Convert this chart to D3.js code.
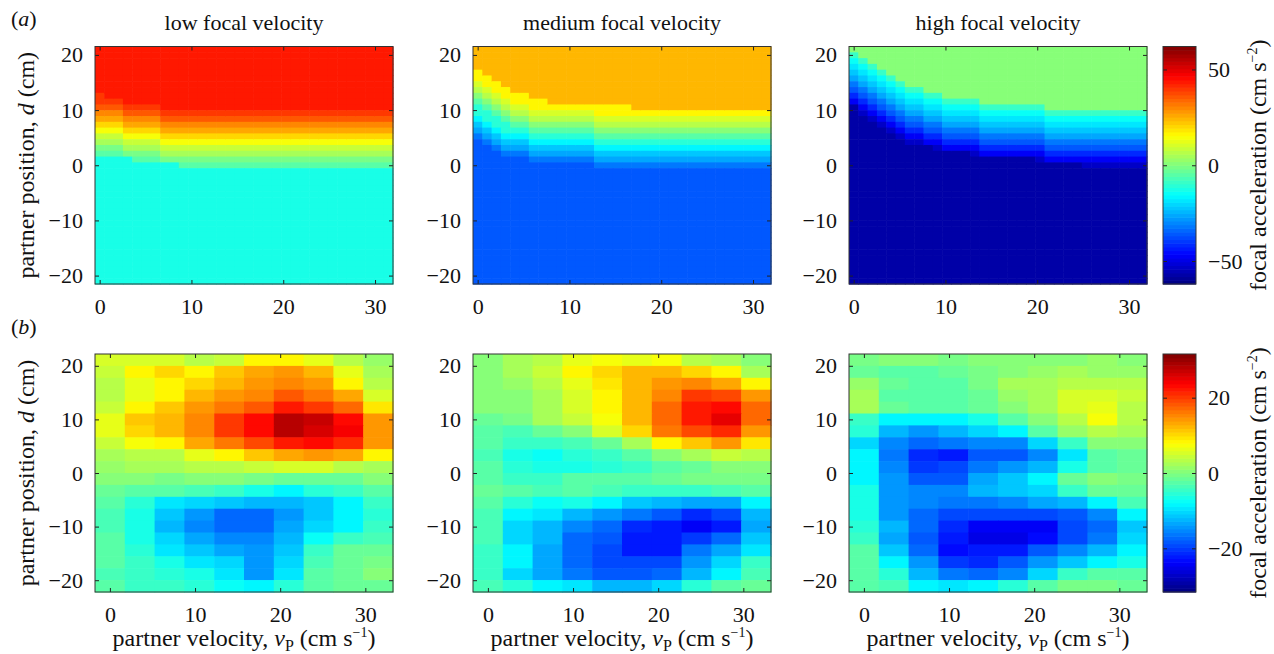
<!DOCTYPE html>
<html><head><meta charset="utf-8">
<script src="https://cdn.jsdelivr.net/npm/d3@7"></script>
<style>
body{margin:0;background:#fff}
svg{display:block}
text{font-family:"Liberation Serif","Times New Roman",serif;fill:#111}
</style>
</head><body>
<svg id="c" width="1274" height="654"></svg>
<script>
// ---------------- DATA ----------------
const titles = ["low focal velocity", "medium focal velocity", "high focal velocity"];
const xTicks = [0, 10, 20, 30];
const yTicks = [-20, -10, 0, 10, 20];
const cbTicksA = [-50, 0, 50];
const cbTicksB = [-20, 0, 20];
const climA = 62, climB = 31.6;

// row (a): model surfaces, 32 velocity columns x 41 position rows
const aVel = d3.range(32).map(i => i * 31.45 / 31);
const aPos = d3.range(41).map(k => 21 - 1.05 * k);
const aTop = [44, 23.7, 0];
const aBottom = [-11.8, -35.6, -57.4];
const aBand1 = [40.4, 35.6, 30.7, 25.8, 20.4, 13.6, 8.8, 4, -0.9, -4.6];
const aBand2 = [17, 11, 6.5, 0.5, -5.5, -10.5, -17, -22, -27, -32];
const aBand3 = [-8.2, -15.5, -18.6, -22.2, -27, -31.9, -36.8, -41.6, -48.4, -53.2];
// rows the transition band is lifted at each velocity column (upper / lower edge)
const aTopLift1 = [3,2,2,1,1,1,1,0,0,0,0,0,0,0,0,0,0,0,0,0,0,0,0,0,0,0,0,0,0,0,0,0];
const aBotLift1 = [2,2,2,2,1,1,1,1,1,0,0,0,0,0,0,0,0,0,0,0,0,0,0,0,0,0,0,0,0,0,0,0];
const aTopLift2 = [7,6,5,4,3,3,2,2,1,1,1,1,1,1,1,1,1,0,0,0,0,0,0,0,0,0,0,0,0,0,0,0];
const aBotLift2 = [5,4,3,2,2,2,1,1,1,1,1,1,1,0,0,0,0,0,0,0,0,0,0,0,0,0,0,0,0,0,0,0];
const aTopLift3 = [10,9,8,7,6,5,4,4,3,3,2,2,2,2,1,1,1,1,1,1,1,0,0,0,0,0,0,0,0,0,0,0];
const aBotLift3 = [11,9,8,7,6,5,4,4,4,3,3,3,3,2,2,2,2,2,2,2,1,1,1,1,1,0,0,0,0,0,0,0];

// row (b): measured, 10 velocity bins x 20 position bins (rows top -> bottom)
const bVel = [0, 3.5, 7, 10.5, 14, 17.5, 21, 24.5, 28, 31.5];
const bPos = d3.range(20).map(k => 21.09 - 2.22 * k);
const bLow = [
 [5,5.5,5,3.5,4.5,8.5,8.5,6,3,1.5],
 [4.5,8.5,10.5,8.7,11,13,14.5,12,6,2],
 [3,6,8,10.5,12.5,14,15.7,14,8.7,3],
 [3,6,8.7,12.3,14,15.7,18,16.3,13,5],
 [4.5,8,11,14.5,16.3,18.6,22,20,17,9],
 [6,11,12.5,15.7,20,23.7,28,26.8,23.7,14.5],
 [6,10.5,12.5,15.7,20,23.7,28,26.5,24,14.5],
 [4.5,7,8.5,13,16.3,19.3,22,23,21.5,14.5],
 [2.5,3,3.5,6,8.7,11,13.2,14,13,8],
 [1.5,2,2.5,3,3.5,4.3,5,5,3.5,2.5],
 [0,0,-0.5,0,0,-0.5,-1,-1.5,-1,0],
 [-1.5,-2,-2.7,-3.3,-4.5,-6.5,-8,-5,-4,-2.7],
 [-2.7,-5,-9.5,-10.5,-11.4,-12,-12,-11.4,-8.8,-4.5],
 [-3.3,-6.5,-11.4,-14.5,-17,-17,-14,-11.4,-8.8,-5],
 [-3.3,-6.5,-12,-15,-17.5,-17.2,-13.3,-10.5,-8.3,-4.5],
 [-2,-6,-10.2,-13.3,-15,-15.7,-12.6,-7.3,-4,-3.3],
 [-2,-5,-9.2,-11.7,-13.6,-14.5,-11.4,-4.5,-1.5,-1],
 [-2.7,-4.5,-6.5,-9.5,-10.5,-14,-10,-3.3,-1,-0.5],
 [-3.3,-4.5,-5,-6.5,-9.5,-14,-9.5,-2.7,-1,0],
 [-2.7,-4,-4,-5,-7,-8.3,-5.5,-2.7,-1.5,-1]
];
const bMed = [
 [0.8,2,3,6,7,6.5,7,3.5,2,0.8],
 [0.2,2.5,4.5,8,10.5,12,12,10.5,8,2.5],
 [0,1.5,3,6,9,12.5,14,15,13.3,8.5],
 [0,0.8,2.5,5,8,12.5,15.7,20.5,19.3,14.5],
 [0,0.8,2.5,5,7.9,12.5,17,22,23,17],
 [-1,-0.5,2,4.5,7,12.5,17,22.5,25,17.5],
 [-2,-3.3,-1.5,0.8,5,10,16.3,19.3,21.5,14],
 [-2.7,-4.5,-4,-3.3,-1.5,2.5,8.5,11,14,9],
 [-3.3,-6,-7.3,-5,-4,-2.7,0.8,2.5,4.5,3.5],
 [-2.7,-5,-6.5,-6,-5,-4,-2,-1,0,0.8],
 [-2.7,-4,-4.5,-2.7,-2,-2,-1,-0.5,-0.5,-0.5],
 [-1.5,-2,-3.3,-2.7,-3.3,-4.5,-4.5,-4,-3.3,-2],
 [-2.7,-5,-7.3,-6.5,-8,-11.4,-12.6,-13.3,-13.3,-8.3],
 [-3.3,-8.3,-9.8,-12.6,-14,-16.3,-18.6,-21,-19.6,-12.6],
 [-3.3,-10.5,-12,-15.7,-17.5,-21,-22.5,-24,-21.8,-13.3],
 [-3.3,-10,-12.6,-17,-18.6,-21.8,-22.5,-20.3,-17.5,-11.4],
 [-4,-8.8,-13.3,-17.5,-19.6,-21.8,-21.8,-16.3,-13.3,-9.5],
 [-4,-8.8,-13.3,-17,-19.6,-19.6,-19.6,-14.5,-10,-4.5],
 [-4,-10,-13.3,-16.3,-18,-18,-17.5,-12,-8,-3.3],
 [-3.3,-5,-8.8,-9.5,-12.6,-12,-10,-5,-2.7,-1.5]
];
const bHigh = [
 [-0.5,0.8,0,-0.5,0,0.8,0.8,0,1.5,0],
 [-1,-2,-2.7,-1.5,-0.5,0.8,1.5,2,1.5,1.5],
 [1.5,-1.5,-2.7,-2,-0.5,2,2.5,3,3.5,3],
 [2,-2,-2.7,-2.7,-1,1.5,2.5,5,5,4.5],
 [2,-1.5,-2.7,-2.7,-1.5,0,2,5,6,3.5],
 [-4,-8.3,-8.5,-8.8,-6.5,-2.7,0,3.5,7,3.5],
 [-5,-12.6,-14,-12,-10.5,-8,-2,1.5,3.5,2.5],
 [-10.5,-15.7,-17,-16.3,-15,-15.7,-10.5,-4,0,0.8],
 [-8.3,-16.3,-21,-21.8,-18.6,-18,-15,-9.5,-2,-1],
 [-8.8,-15.7,-20.3,-19.6,-16.3,-14.5,-12,-6.5,-2.7,-1.5],
 [-8.8,-14.5,-18,-18,-13.3,-11.4,-8,-1.5,0.8,-0.5],
 [-6.5,-14.5,-15.7,-15.7,-12,-11.4,-10,-4,-1.5,-1.5],
 [-6.5,-14,-15.7,-16.3,-16.3,-15,-13.3,-12.6,-8.3,-3.3],
 [-6.5,-14,-17,-19.6,-19.6,-19,-19,-18.6,-15.7,-8],
 [-5,-12.6,-17.5,-21,-24.5,-24.5,-24,-19.6,-17.5,-11.4],
 [-4,-13.3,-18.6,-21.8,-25.5,-25,-23,-19.6,-16.3,-10.5],
 [-2.7,-11.4,-17,-23.5,-22.5,-21.8,-18,-15.7,-12,-8.8],
 [-2.7,-8,-14.5,-20.3,-21,-18,-14,-11.4,-8.3,-6.5],
 [-2,-5,-12.6,-16.3,-17,-15.7,-10,-4.5,-2.7,-2.7],
 [-2,-3.3,-8.8,-9.5,-8.5,-5,-2,-0.5,-0.5,-1]
];

// ---------------- LAYOUT ----------------
const svg = d3.select("#c");
const lefts = [95, 473, 849], PW = 298;
const rowA = {top: 46.5, bottom: 284};
const rowB = {top: 354, bottom: 592};
const cbX = 1163, cbW = 33;
const FT = 22, FL = 24;
const SERIF = '"Liberation Serif","Times New Roman",serif';

function jet(v, clim) {
  let t = (v + clim) / (2 * clim);
  let i = Math.max(0, Math.min(63, Math.floor(t * 64)));
  const u = (i + 0.5) / 64;
  const c = x => Math.max(0, Math.min(1, x));
  const r = c(1.5 - Math.abs(4 * u - 3));
  const g = c(1.5 - Math.abs(4 * u - 2));
  const b = c(1.5 - Math.abs(4 * u - 1));
  return d3.rgb(r * 255, g * 255, b * 255).formatHex();
}

const aBands = [aBand1, aBand2, aBand3];
const aTopL = [aTopLift1, aTopLift2, aTopLift3];
const aBotL = [aBotLift1, aBotLift2, aBotLift3];
function aValue(p, c, k) {
  const start = 11 - aTopL[p][c];
  const end = 20 - aBotL[p][c];
  if (k < start) return aTop[p];
  if (k > end) return aBottom[p];
  const L = end - start + 1;
  const idx = Math.min(9, Math.floor((k - start) * 10 / L));
  return aBands[p][idx];
}
const fmt = d => d < 0 ? "\u2212" + Math.abs(d) : d;

function drawAxes(g, x, y, row) {
  const h = row.bottom - row.top;
  const bottom = d3.axisBottom(x).tickValues(xTicks).tickSize(-4).tickPadding(14).tickFormat(fmt);
  const top = d3.axisTop(x).tickValues(xTicks).tickSize(-4).tickFormat("");
  const left = d3.axisLeft(y).tickValues(yTicks).tickSize(-4).tickPadding(12).tickFormat(fmt);
  const right = d3.axisRight(y).tickValues(yTicks).tickSize(-4).tickFormat("");
  const styleAx = s => {
    s.attr("font-family", SERIF);
    s.select(".domain").remove();
    s.selectAll(".tick line").attr("stroke", "#222");
    s.selectAll("text").attr("font-size", FT).attr("font-family", SERIF).attr("fill", "#111");
  };
  g.append("g").attr("transform", `translate(0,${row.bottom})`).call(bottom).call(styleAx);
  g.append("g").attr("transform", `translate(0,${row.top})`).call(top).call(styleAx);
  g.append("g").attr("transform", `translate(${x.range()[0]},0)`).call(left).call(styleAx);
  g.append("g").attr("transform", `translate(${x.range()[1]},0)`).call(right).call(styleAx);
  g.append("rect").attr("x", x.range()[0]).attr("y", row.top)
    .attr("width", x.range()[1] - x.range()[0]).attr("height", h)
    .attr("fill", "none").attr("stroke", "#333").attr("stroke-width", 1);
}

// ---------- row (a) ----------
const aStep = aVel[1] - aVel[0];
const aPStep = 1.05;
for (let p = 0; p < 3; p++) {
  const x = d3.scaleLinear().domain([aVel[0] - aStep / 2, aVel[31] + aStep / 2]).range([lefts[p], lefts[p] + PW]);
  const y = d3.scaleLinear().domain([aPos[40] - aPStep / 2, aPos[0] + aPStep / 2]).range([rowA.bottom, rowA.top]);
  const g = svg.append("g");
  const cells = [];
  for (let c = 0; c < 32; c++) for (let k = 0; k < 41; k++) cells.push({c, k, v: aValue(p, c, k)});
  g.append("g").selectAll("rect").data(cells).join("rect")
    .attr("x", d => x(aVel[d.c] - aStep / 2))
    .attr("y", d => y(aPos[d.k] + aPStep / 2))
    .attr("width", d => x(aVel[d.c] + aStep / 2) - x(aVel[d.c] - aStep / 2) + 0.6)
    .attr("height", d => y(aPos[d.k] - aPStep / 2) - y(aPos[d.k] + aPStep / 2) + 0.6)
    .attr("fill", d => jet(d.v, climA));
  drawAxes(g, x, y, rowA);
  svg.append("text").attr("x", lefts[p] + PW / 2).attr("y", 30).attr("text-anchor", "middle")
    .attr("font-size", FT).text(titles[p]);
}

// ---------- row (b) ----------
const bMats = [bLow, bMed, bHigh];
const bStep = 3.5, bPStep = 2.22;
for (let p = 0; p < 3; p++) {
  const x = d3.scaleLinear().domain([bVel[0] - bStep / 2, bVel[9] + bStep / 2]).range([lefts[p], lefts[p] + PW]);
  const y = d3.scaleLinear().domain([bPos[19] - bPStep / 2, bPos[0] + bPStep / 2]).range([rowB.bottom, rowB.top]);
  const g = svg.append("g");
  const cells = [];
  bMats[p].forEach((row, k) => row.forEach((v, c) => cells.push({c, k, v})));
  g.append("g").selectAll("rect").data(cells).join("rect")
    .attr("x", d => x(bVel[d.c] - bStep / 2))
    .attr("y", d => y(bPos[d.k] + bPStep / 2))
    .attr("width", d => x(bVel[d.c] + bStep / 2) - x(bVel[d.c] - bStep / 2) + 0.6)
    .attr("height", d => y(bPos[d.k] - bPStep / 2) - y(bPos[d.k] + bPStep / 2) + 0.6)
    .attr("fill", d => jet(d.v, climB));
  drawAxes(g, x, y, rowB);
  // x label
  const t = svg.append("text").attr("x", lefts[p] + PW / 2).attr("y", 646)
    .attr("text-anchor", "middle").attr("font-size", FL);
  t.append("tspan").text("partner velocity, ");
  t.append("tspan").attr("font-style", "italic").text("v");
  t.append("tspan").attr("font-size", 16).attr("dy", 5).text("P");
  t.append("tspan").attr("dy", -5).text(" (cm s");
  t.append("tspan").attr("font-size", 14).attr("dy", -9).text("\u22121");
  t.append("tspan").attr("dy", 9).text(")");
}

// ---------- y labels and panel letters ----------
[rowA, rowB].forEach((row, i) => {
  const cy = (row.top + row.bottom) / 2;
  const t = svg.append("text").attr("transform", `translate(34,${cy}) rotate(-90)`)
    .attr("text-anchor", "middle").attr("font-size", FL);
  t.append("tspan").text("partner position, ");
  t.append("tspan").attr("font-style", "italic").text("d");
  t.append("tspan").text(" (cm)");
  const l = svg.append("text").attr("x", 11).attr("y", i === 0 ? 26 : 334).attr("font-size", FT);
  l.append("tspan").text("(");
  l.append("tspan").attr("font-style", "italic").text(i === 0 ? "a" : "b");
  l.append("tspan").text(")");
});

// ---------- colorbars ----------
function colorbar(row, clim, ticks) {
  const y = d3.scaleLinear().domain([-clim, clim]).range([row.bottom, row.top]);
  const g = svg.append("g");
  const levels = d3.range(64);
  const lh = (row.bottom - row.top) / 64;
  g.selectAll("rect").data(levels).join("rect")
    .attr("x", cbX).attr("width", cbW)
    .attr("y", i => y(-clim + (i + 1) * 2 * clim / 64))
    .attr("height", lh + 0.6)
    .attr("fill", i => jet(-clim + (i + 0.5) * 2 * clim / 64, clim));
  const ax = d3.axisRight(y).tickValues(ticks).tickSize(-4).tickPadding(12).tickFormat(fmt);
  const gx = g.append("g").attr("transform", `translate(${cbX + cbW},0)`).call(ax);
  gx.attr("font-family", SERIF);
  gx.select(".domain").remove();
  gx.selectAll(".tick line").attr("stroke", "#222");
  gx.selectAll("text").attr("font-size", FT).attr("font-family", SERIF).attr("fill", "#111");
  const axl = d3.axisLeft(y).tickValues(ticks).tickSize(-4).tickFormat("");
  const gl = g.append("g").attr("transform", `translate(${cbX},0)`).call(axl);
  gl.select(".domain").remove();
  gl.selectAll(".tick line").attr("stroke", "#222");
  g.append("rect").attr("x", cbX).attr("y", row.top).attr("width", cbW)
    .attr("height", row.bottom - row.top).attr("fill", "none").attr("stroke", "#333");
  const cy = (row.top + row.bottom) / 2;
  const t = svg.append("text").attr("transform", `translate(1266,${cy}) rotate(-90)`)
    .attr("text-anchor", "middle").attr("font-size", FL);
  t.append("tspan").text("focal acceleration (cm s");
  t.append("tspan").attr("font-size", 14).attr("dy", -9).text("\u22122");
  t.append("tspan").attr("dy", 9).text(")");
}
colorbar(rowA, climA, cbTicksA);
colorbar(rowB, climB, cbTicksB);
</script>
</body></html>
